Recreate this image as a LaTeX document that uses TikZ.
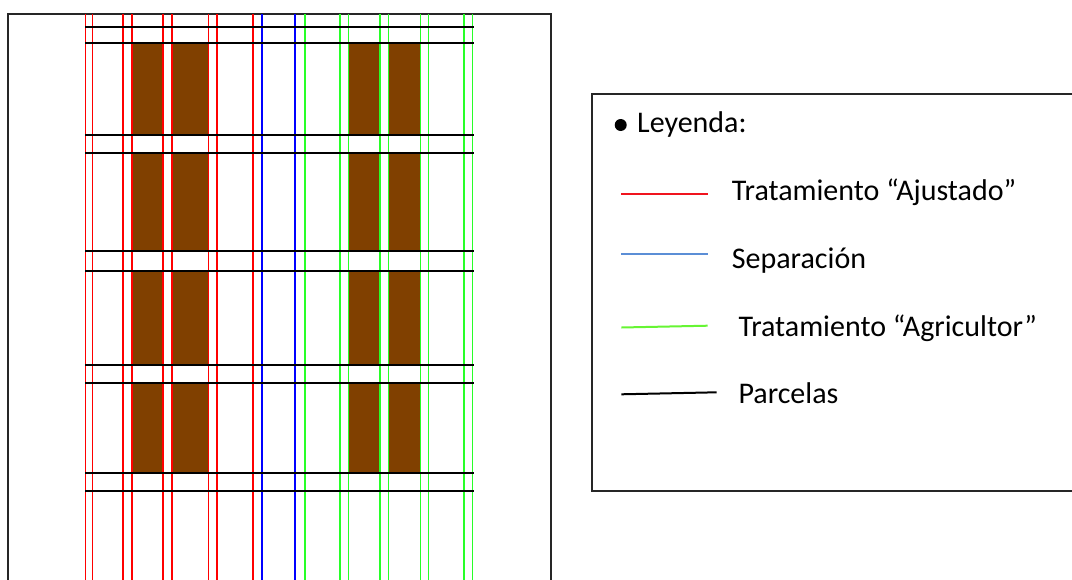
\documentclass[tikz,border=0pt]{standalone}
\usepackage{fontspec}
\setmainfont{Carlito}
\definecolor{soil}{RGB}{128,64,0}
\definecolor{ajred}{RGB}{255,0,0}
\definecolor{sepblue}{RGB}{0,0,255}
\definecolor{agrigreen}{RGB}{40,255,40}
\definecolor{legred}{RGB}{240,20,30}
\definecolor{legblue}{RGB}{91,142,214}
\definecolor{leggreen}{RGB}{102,245,51}
\begin{document}
\begin{tikzpicture}[x=1pt,y=-1pt,
  frameline/.style={draw=black!85, line width=2pt},
  ajustado/.style={draw=ajred, line width=1.3pt},
  separacion/.style={draw=sepblue, line width=1.3pt},
  agricultor/.style={draw=agrigreen, line width=1.3pt},
  parcela/.style={draw=black, line width=2pt},
  bed/.style={fill=soil},
  legtext/.style={anchor=base west, inner sep=0pt, font=\fontsize{30}{36}\selectfont},
  legline/.style={line width=2pt}]
\useasboundingbox (0,0) rectangle (1072,579);

% field frame (open at the bottom)
\draw[frameline] (7.5,585) -- (7.5,14) -- (550.5,14) -- (550.5,585);

% soil beds between the plot borders
\foreach \ya/\yb in {42/134, 152.5/250, 270.5/364, 382.5/472}{
  \foreach \xa/\xb in {132/163, 172/208.3, 348.7/380, 388.3/420.7}{
    \fill[bed] (\xa,\ya) rectangle (\xb,\yb);
  }
}

% "Ajustado" treatment rows
\foreach \x in {85.5, 92.5, 123, 132, 163, 172, 208.5, 217, 253}{
  \draw[ajustado] (\x,14) -- (\x,585);
}
% separation strip
\foreach \x in {262, 295}{
  \draw[separacion] (\x,14) -- (\x,585);
}
% "Agricultor" treatment rows
\foreach \x in {305, 340, 348.7, 380, 388.3, 420.7, 428.3, 464, 472.7}{
  \draw[agricultor] (\x,14) -- (\x,585);
}
% plot boundaries
\foreach \y in {26.5, 42.5, 134.5, 152.5, 250.5, 270.5, 364.5, 382.5, 472.5, 490.5}{
  \draw[parcela] (85,\y) -- (474,\y);
}

% legend
\draw[frameline] (1080,93.5) -- (591.5,93.5) -- (591.5,490.5) -- (1080,490.5);
\node[circle, fill=black, inner sep=0pt, minimum size=12pt] (bullet) at (620.7,125) {};
\node[legtext] (title) at (637,132.7) {Leyenda:};

\coordinate (ra) at (621.3,193.5);
\coordinate (rb) at (707.7,193.5);
\draw[legline, draw=legred] (ra) -- (rb);
\node[legtext] (tajust) at (731.7,200) {Tratamiento “Ajustado”};

\coordinate (ba) at (621.3,253.5);
\coordinate (bb) at (707.7,253.5);
\draw[legline, draw=legblue] (ba) -- (bb);
\node[legtext] (tsep) at (731.7,268.3) {Separación};

\coordinate (ga) at (621.3,327.5);
\coordinate (gb) at (707.7,325.7);
\draw[legline, draw=leggreen] (ga) -- (gb);
\node[legtext] (tagri) at (738.3,336) {Tratamiento “Agricultor”};

\coordinate (ka) at (621.3,394.3);
\coordinate (kb) at (716.7,392.3);
\draw[legline, draw=black] (ka) -- (kb);
\node[legtext] (tparc) at (738.3,403.3) {Parcelas};
\end{tikzpicture}
\end{document}
